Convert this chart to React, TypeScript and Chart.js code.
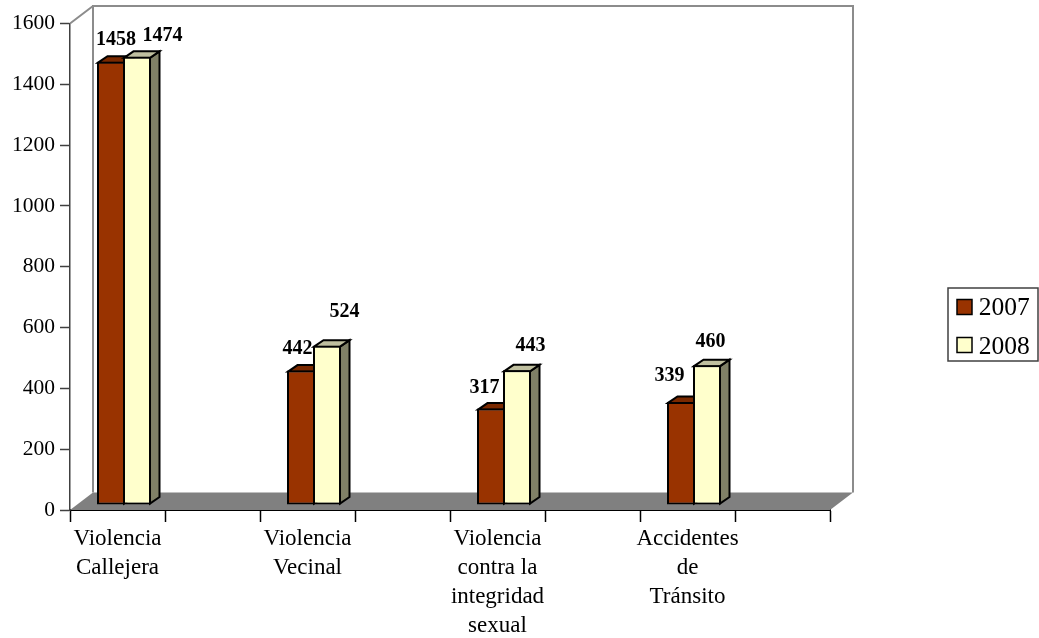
import React, { useEffect, useRef } from "react";
import { Chart, registerables } from "chart.js";

Chart.register(...registerables);

const categories: (string | string[])[] = [
  ["Violencia", "Callejera"],
  "",
  ["Violencia", "Vecinal"],
  "",
  ["Violencia", "contra la", "integridad", "sexual"],
  "",
  ["Accidentes", "de", "Tránsito"],
  "",
];
const values2007 = [1458, null, 442, null, 317, null, 339, null];
const values2008 = [1474, null, 524, null, 443, null, 460, null];
const yTicks = { min: 0, max: 1600, step: 200 };

const FONT = '"Liberation Serif", serif';
const WALL = { dx: 23, dy: -17.5 };
const BAR_SHIFT = { dx: 6.5, dy: -5 };
const BAR_DEPTH = { dx: 9.5, dy: -6.5 };
const faces = [
  { top: "#7A2900", side: "#7A2900" },
  { top: "#BFBF9F", side: "#808066" },
];
// label nudges relative to the bar's top centre, per dataset and category
const labelNudges: Record<number, [number, number]>[] = [
  { 0: [5, -22], 2: [-3.5, -22], 4: [-6.5, -20.5], 6: [-11.5, -26] },
  { 0: [25.5, -21], 2: [17.5, -33.5], 4: [13.5, -24], 6: [3.5, -23] },
];
const LEGEND_BOX = { x: 948, y: 288, w: 90, h: 73 };

function poly(ctx: CanvasRenderingContext2D, pts: number[][], fill?: string, stroke?: string, lw = 1) {
  ctx.beginPath();
  pts.forEach((p, i) => (i ? ctx.lineTo(p[0], p[1]) : ctx.moveTo(p[0], p[1])));
  ctx.closePath();
  if (fill) {
    ctx.fillStyle = fill;
    ctx.fill();
  }
  if (stroke) {
    ctx.strokeStyle = stroke;
    ctx.lineWidth = lw;
    ctx.lineJoin = "miter";
    ctx.stroke();
  }
}

const scene3d = {
  id: "scene3d",
  afterLayout(chart: any) {
    const lg = chart.legend;
    lg.left = LEGEND_BOX.x;
    lg.top = LEGEND_BOX.y - 5;
    lg.right = LEGEND_BOX.x + LEGEND_BOX.w;
    lg.bottom = LEGEND_BOX.y + 300;
  },
  beforeDatasetsDraw(chart: any) {
    const { ctx, chartArea: a } = chart;
    const { dx, dy } = WALL;
    ctx.save();
    // floor
    poly(ctx, [[a.left, a.bottom], [a.left + dx, a.bottom + dy], [a.right + dx, a.bottom + dy], [a.right, a.bottom]], "#808080");
    // back wall and left-wall edges
    ctx.strokeStyle = "#8C8C8C";
    ctx.lineWidth = 2;
    ctx.beginPath();
    ctx.moveTo(a.left + dx, a.bottom + dy);
    ctx.lineTo(a.left + dx, a.top + dy);
    ctx.lineTo(a.right + dx, a.top + dy);
    ctx.lineTo(a.right + dx, a.bottom + dy);
    ctx.moveTo(a.left, a.top);
    ctx.lineTo(a.left + dx, a.top + dy);
    ctx.stroke();
    ctx.translate(BAR_SHIFT.dx, BAR_SHIFT.dy);
    chart.data.datasets.forEach((ds: any, di: number) => {
      const meta = chart.getDatasetMeta(di);
      meta.data.forEach((el: any, i: number) => {
        if (ds.data[i] == null) return;
        const { x, y, base, width } = el.getProps(["x", "y", "base", "width"], true);
        const l = x - width / 2;
        const r = x + width / 2 - 1;
        const { dx: bx, dy: by } = BAR_DEPTH;
        poly(ctx, [[r, y + 1], [r + bx, y + 1 + by], [r + bx, base - 1 + by], [r, base - 1]], faces[di].side, "#000", 2);
        poly(ctx, [[l + 1, y + 1], [l + 1 + bx, y + 1 + by], [r + bx, y + 1 + by], [r, y + 1]], faces[di].top, "#000", 2);
      });
    });
    ctx.restore();
    ctx.save();
    ctx.translate(BAR_SHIFT.dx, BAR_SHIFT.dy);
  },
  afterDatasetsDraw(chart: any) {
    const { ctx } = chart;
    ctx.restore();
    ctx.save();
    ctx.fillStyle = "#000";
    ctx.font = `bold 20px ${FONT}`;
    ctx.textAlign = "center";
    ctx.textBaseline = "middle";
    chart.data.datasets.forEach((ds: any, di: number) => {
      chart.getDatasetMeta(di).data.forEach((el: any, i: number) => {
        const v = ds.data[i];
        if (v == null) return;
        const { x, y } = el.getProps(["x", "y"], true);
        const [nx, ny] = labelNudges[di][i] ?? [0, -20];
        ctx.fillText(String(v), x + BAR_SHIFT.dx + nx, y + BAR_SHIFT.dy + ny);
      });
    });
    ctx.restore();
  },
  afterDraw(chart: any) {
    const { ctx } = chart;
    ctx.save();
    ctx.strokeStyle = "#404040";
    ctx.lineWidth = 1.5;
    ctx.strokeRect(LEGEND_BOX.x, LEGEND_BOX.y, LEGEND_BOX.w, LEGEND_BOX.h);
    chart.data.datasets.forEach((ds: any, di: number) => {
      ctx.fillStyle = ds.backgroundColor;
      ctx.strokeStyle = "#000";
      ctx.lineWidth = 1.5;
      const sy = LEGEND_BOX.y + 11.5 + di * 38;
      ctx.fillRect(LEGEND_BOX.x + 9, sy, 15, 15);
      ctx.strokeRect(LEGEND_BOX.x + 9, sy, 15, 15);
    });
    ctx.restore();
  },
};

export default function App() {
  const ref = useRef<HTMLCanvasElement>(null);
  useEffect(() => {
    const chart = new Chart(ref.current as HTMLCanvasElement, {
      type: "bar",
      data: {
        labels: categories as any,
        datasets: [
          { label: "2007", data: values2007, backgroundColor: "#993300", borderColor: "#000", borderWidth: 2, borderSkipped: false },
          { label: "2008", data: values2008, backgroundColor: "#FFFFCC", borderColor: "#000", borderWidth: 2, borderSkipped: false },
        ] as any,
      },
      plugins: [scene3d],
      options: {
        animation: false,
        responsive: false,
        devicePixelRatio: 1,
        layout: { autoPadding: false, padding: { top: 23.5, left: 0, right: 209, bottom: 0 } },
        datasets: { bar: { categoryPercentage: 52 / 95, barPercentage: 28 / 26 } },
        plugins: {
          title: { display: false },
          tooltip: { enabled: false },
          legend: {
            position: "chartArea",
            align: "start",
            labels: {
              color: "#000",
              font: { family: FONT, size: 25.5 },
              boxWidth: 5,
              boxHeight: 5,
              padding: 13,
              generateLabels: (chart: any) =>
                chart.data.datasets.map((ds: any, i: number) => ({
                  text: ds.label,
                  fillStyle: "rgba(0,0,0,0)",
                  strokeStyle: "rgba(0,0,0,0)",
                  lineWidth: 0,
                  datasetIndex: i,
                })),
            },
          },
        },
        scales: {
          x: {
            afterFit: (s: any) => {
              s.height = 128;
            },
            grid: { drawOnChartArea: false, drawTicks: true, tickLength: 12, tickColor: "#000", tickWidth: 1.5 },
            border: { color: "#000", width: 2 },
            ticks: {
              autoSkip: false,
              maxRotation: 0,
              minRotation: 0,
              padding: 2,
              color: "#000",
              font: { family: FONT, size: 23, lineHeight: 1.27 },
            },
          },
          y: {
            min: yTicks.min,
            max: yTicks.max,
            afterFit: (s: any) => {
              s.width = 70;
            },
            grid: { drawOnChartArea: false, drawTicks: true, tickLength: 10, tickColor: "#404040", tickWidth: 1.5 },
            border: { color: "#404040", width: 1.5 },
            ticks: {
              stepSize: yTicks.step,
              padding: 5,
              color: "#000",
              font: { family: FONT, size: 21.5 },
              callback: (v: any) => String(v),
            },
          },
        },
      } as any,
    });
    return () => chart.destroy();
  }, []);
  return (
    <div style={{ position: "absolute", left: 0, top: 0, width: 1039, height: 638, overflow: "hidden", background: "#fff" }}>
      <canvas ref={ref} width={1039} height={638} style={{ display: "block" }} />
    </div>
  );
}
